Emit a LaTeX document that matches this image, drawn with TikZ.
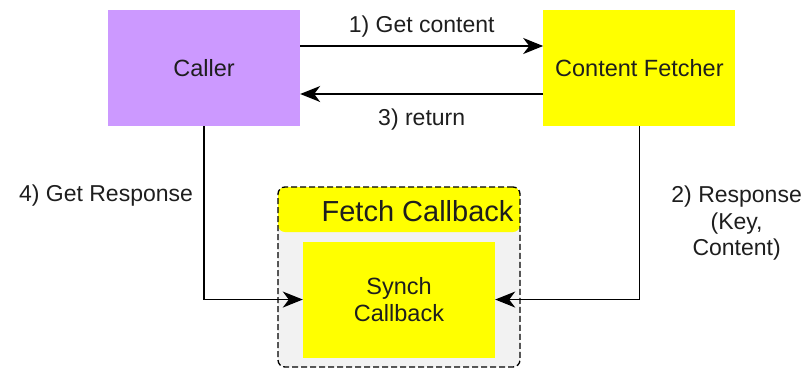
\documentclass[tikz,border=0pt]{standalone}
\usepackage{fontspec}
\setmainfont{Liberation Sans}
\usepackage{tikz}
\usetikzlibrary{arrows.meta,positioning}

\definecolor{callerpurple}{RGB}{204,153,255}
\definecolor{fetchyellow}{RGB}{255,255,0}
\definecolor{panelgray}{RGB}{242,242,242}
\definecolor{textgray}{RGB}{30,30,30}

\begin{document}
\begin{tikzpicture}[
  x=1pt, y=1pt,
  box/.style={inner sep=0pt, align=center, minimum width=192pt, minimum height=116pt, text=textgray, font=\fontsize{23.5}{27}\selectfont},
  panel/.style={draw, dash pattern=on 6pt off 3pt, line width=1.3pt, rounded corners=7pt, fill=panelgray, minimum width=242pt, minimum height=180pt},
  arrow/.style={-{Stealth[length=20pt,width=16pt,inset=6pt]}, line width=1.4pt},
  lbl/.style={text=textgray, align=center, font=\fontsize{23}{26.5}\selectfont}
]
\useasboundingbox (0,0) rectangle (811,-370);

% Caller
\node[box, fill=callerpurple] (caller) at (204,-68) {Caller};

% Content Fetcher
\node[box, fill=fetchyellow, right=243pt of caller] (fetcher) {Content Fetcher};

% Fetch Callback panel
\node[panel, path picture={\fill[fetchyellow] (path picture bounding box.north west) rectangle ([yshift=-45pt]path picture bounding box.north east);}] (fetch) at (399,-277) {};
\node[anchor=east, inner sep=0pt, text=textgray, font=\fontsize{29}{33}\selectfont] (fetchtitle) at ([xshift=-7pt,yshift=-25pt]fetch.north east) {Fetch Callback};

% Synch Callback
\node[box, fill=fetchyellow, below=55pt of fetch.north] (synch) {Synch\\Callback};

% Arrows
\draw[arrow] ([yshift=22pt]caller.east) -- node[lbl, above=5pt] {1) Get content} ([yshift=22pt]fetcher.west);
\draw[arrow] ([yshift=-26pt]fetcher.west) -- node[lbl, below=11pt] {3) return} ([yshift=-26pt]caller.east);
\draw[arrow] (fetcher.south) |- node[lbl, right=28pt, pos=0.28] {2) Response\\(Key,\\Content)} (synch.east);
\draw[arrow] (caller.south) |- node[lbl, left=7pt, pos=0.2] {4) Get Response} (synch.west);

\end{tikzpicture}
\end{document}
